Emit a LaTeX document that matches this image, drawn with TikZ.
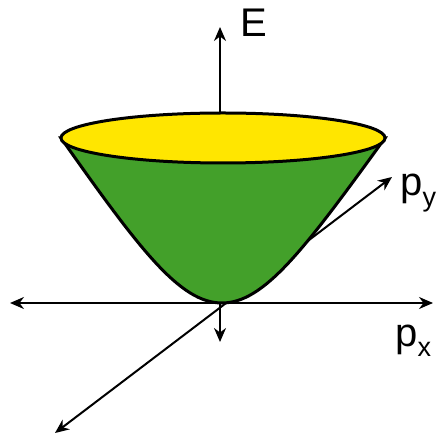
\documentclass[tikz,border=0pt]{standalone}
\usepackage{fontspec}
\setmainfont{Liberation Sans}
\usetikzlibrary{arrows.meta}
\definecolor{bowlgreen}{RGB}{67,160,42}
\definecolor{lidyellow}{RGB}{255,230,0}

\begin{document}
\begin{tikzpicture}[x=0.5pt, y=-0.5pt,
    axis/.style={line width=1pt, -{Stealth[length=7pt, width=6pt]}},
    lbl/.style={anchor=base west, inner sep=0pt, font=\fontsize{20}{22}\selectfont}]
    \useasboundingbox (0,0) rectangle (443,437);

    % Axis points
    \coordinate (O) at (220,303);
    \coordinate (Xneg) at (10,303);
    \coordinate (Xpos) at (433,303);
    \coordinate (Yneg) at (55,433);
    \coordinate (Ypos) at (392,177);
    \coordinate (Eneg) at (220,342);
    \coordinate (Etop) at (220,27);
    \coordinate (Lid) at (220,113);

    % p_y axis (behind the bowl)
    \draw[axis, {Stealth[length=7pt, width=6pt]}-{Stealth[length=7pt, width=6pt]}] (Yneg) -- (Ypos);
    % p_x axis
    \draw[axis, {Stealth[length=7pt, width=6pt]}-{Stealth[length=7pt, width=6pt]}] (Xneg) -- (Xpos);

    % Dispersion bowl
    \coordinate (L) at (61,138);
    \coordinate (R) at (385,138);
    \coordinate (B) at (222,303);
    \filldraw[line width=1.5pt, fill=bowlgreen] (L) .. controls (140,250) and (180,303) .. (B)
        .. controls (264,303) and (304,250) .. (R) -- cycle;
    \filldraw[line width=1.5pt, fill=lidyellow] (223,138) ellipse [x radius=81pt, y radius=12.5pt];

    % E axis
    \draw[axis] (Lid) -- (Etop);
    \draw[axis] (O) -- (Eneg);

    % Labels
    \node[lbl] (labE) at (240,37) {E};
    \node[lbl] (labPy) at (400,196) {p\raisebox{-5.5pt}{\fontsize{13.5}{14}\selectfont y}};
    \node[lbl] (labPx) at (395,346) {p\raisebox{-5.5pt}{\fontsize{13.5}{14}\selectfont x}};
\end{tikzpicture}
\end{document}
